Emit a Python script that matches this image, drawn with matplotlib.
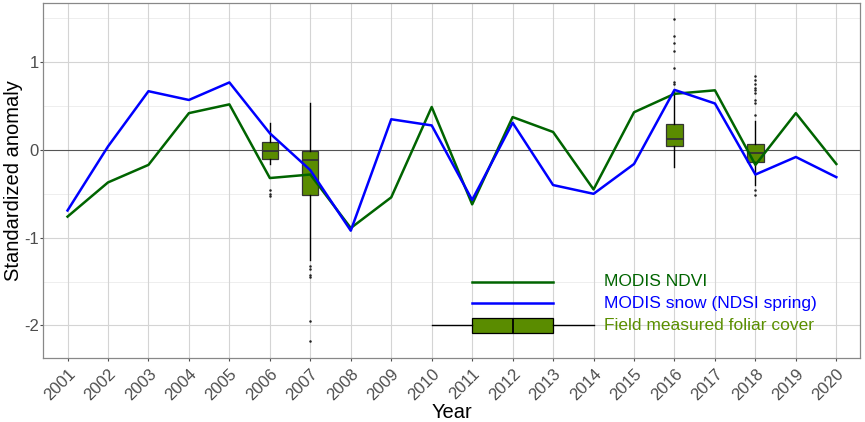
import matplotlib
matplotlib.use("Agg")
import matplotlib.pyplot as plt
import matplotlib.transforms as mtransforms

years = list(range(2001, 2021))
ndvi = [-0.76, -0.37, -0.17, 0.42, 0.52, -0.32, -0.28, -0.89, -0.54, 0.49,
        -0.62, 0.375, 0.205, -0.45, 0.43, 0.64, 0.68, -0.17, 0.42, -0.16]
snow = [-0.69, 0.04, 0.67, 0.57, 0.77, 0.19, -0.23, -0.92, 0.35, 0.28,
        -0.57, 0.31, -0.40, -0.50, -0.16, 0.685, 0.53, -0.28, -0.08, -0.31]

box_years = [2006, 2007, 2016, 2018]
box_whislo = [-0.16, -1.25, -0.19, -0.40]
box_q1 = [-0.10, -0.51, 0.05, -0.14]
box_med = [-0.01, -0.11, 0.12, -0.03]
box_q3 = [0.094, -0.01, 0.30, 0.07]
box_whishi = [0.31, 0.54, 0.685, 0.33]
box_fliers = [
    [-0.46, -0.50, -0.53],
    [-1.32, -1.36, -1.42, -1.45, -1.95, -2.18],
    [1.49, 1.30, 1.22, 1.13, 0.93, 0.77, 0.75],
    [0.84, 0.80, 0.75, 0.71, 0.68, 0.65, 0.57, 0.53, 0.40, -0.46, -0.51],
]

legend_labels = ["MODIS NDVI", "MODIS snow (NDSI spring)", "Field measured foliar cover"]

C_NDVI = "#006400"
C_SNOW = "#0000FF"
C_BOX = "#5A8C00"
C_TEXT_BOX = "#5A8F00"

plt.rcParams['font.family'] = ['Liberation Sans', 'DejaVu Sans']

fig = plt.figure(figsize=(8.65, 4.22), dpi=100)
ax = fig.add_axes([0.05, 0.152, 0.944, 0.841])

ax.set_xlim(2000.4, 2020.58)
ax.set_ylim(-2.37, 1.676)

# grid
for y in [-2.0, -1.5, -1.0, -0.5, 0.5, 1.0, 1.5]:
    major = float(y).is_integer()
    ax.axhline(y, color="#D4D4D4" if major else "#EBEBEB", lw=0.8 if major else 0.6, zorder=0)
for x in years:
    ax.axvline(x, color="#D4D4D4", lw=0.8, zorder=0)
ax.axhline(0, color="#555555", lw=0.8, zorder=1)

stats = []
for i in range(len(box_years)):
    stats.append(dict(med=box_med[i], q1=box_q1[i], q3=box_q3[i],
                      whislo=box_whislo[i], whishi=box_whishi[i], fliers=box_fliers[i]))
ax.bxp(stats, positions=box_years, widths=0.4, patch_artist=True, manage_ticks=False,
       boxprops=dict(facecolor=C_BOX, edgecolor="#333333", lw=0.9),
       medianprops=dict(color="#333333", lw=1.3),
       whiskerprops=dict(color="black", lw=1.0),
       capprops=dict(lw=0),
       flierprops=dict(marker='o', markersize=0.8, markerfacecolor='#222222',
                       markeredgecolor='#222222', lw=0),
       zorder=2)

ax.plot(years, ndvi, color=C_NDVI, lw=1.8, zorder=3)
ax.plot(years, snow, color=C_SNOW, lw=1.8, zorder=3)

# in-plot legend
ax.plot([2011, 2013], [-1.5, -1.5], color=C_NDVI, lw=1.8)
ax.plot([2011, 2013], [-1.745, -1.745], color=C_SNOW, lw=1.8)
ax.bxp([dict(med=2012, q1=2011, q3=2013, whislo=2010, whishi=2014, fliers=[])],
       positions=[-2.0], widths=0.18, vert=False, patch_artist=True, manage_ticks=False,
       boxprops=dict(facecolor=C_BOX, edgecolor="black", lw=0.9),
       medianprops=dict(color="black", lw=1.3),
       whiskerprops=dict(color="black", lw=1.0), capprops=dict(lw=0))
for lab, yy, col in zip(legend_labels, [-1.5, -1.745, -2.0], [C_NDVI, C_SNOW, C_TEXT_BOX]):
    ax.text(2014.25, yy, lab, color=col, fontsize=12.5, va='center', ha='left')

ax.set_xticks(years)
ax.set_xticklabels([str(y) for y in years], rotation=45, ha='right', va='top',
                   rotation_mode='anchor')
off = mtransforms.ScaledTranslation(6 / 100, 0, fig.dpi_scale_trans)
for lbl in ax.get_xticklabels():
    lbl.set_transform(lbl.get_transform() + off)
ax.set_yticks([-2, -1, 0, 1])
ax.set_yticklabels(["-2", "-1", "0", "1"])
ax.tick_params(axis='both', colors="#4D4D4D", labelsize=12, length=2, width=0.8)
ax.tick_params(axis='x', pad=4)
ax.tick_params(axis='y', pad=1)
ax.set_xlabel("Year", fontsize=14.5, labelpad=0)
ax.set_ylabel("Standardized anomaly", fontsize=14.5)
ax.yaxis.set_label_coords(-0.025, 0.5)

for s in ax.spines.values():
    s.set_color("#888888")
    s.set_linewidth(0.9)

fig.savefig("out.png", dpi=100)
